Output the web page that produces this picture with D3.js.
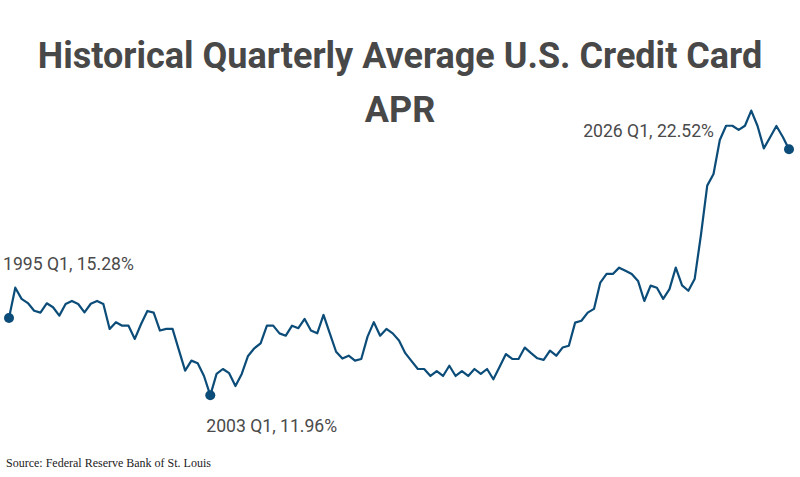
<!DOCTYPE html>
<html>
<head>
<meta charset="utf-8">
<script src="https://cdn.jsdelivr.net/npm/d3@7"></script>
<style>
  html, body { margin: 0; padding: 0; background: #fff; }
  svg { display: block; }
  .title { font-family: Roboto, "Open Sans", sans-serif; font-weight: 700; font-size: 36px; fill: #484848; }
  .note { font-family: Roboto, sans-serif; font-size: 17.6px; fill: #4a4a4a; }
  .source { font-family: "Liberation Serif", "Times New Roman", serif; font-size: 12px; fill: #222; }
</style>
</head>
<body>
<svg id="chart" width="800" height="477"></svg>
<script>
  const START_YEAR = 1995;
  const END_YEAR = 2026;

  // quarterly average APR, %, 1995 Q1 .. 2026 Q1
  const aprValues = [
    15.28, 16.58, 16.10, 15.92, 15.59, 15.51, 15.91, 15.74, 15.38, 15.88,
    16.01, 15.88, 15.52, 15.89, 16.01, 15.88, 14.81, 15.10, 14.95, 14.95,
    14.38, 15.02, 15.58, 15.51, 14.74, 14.81, 14.81, 13.91, 13.02, 13.45,
    13.34, 12.79, 11.96, 12.88, 13.09, 12.91, 12.36, 12.88, 13.65, 13.98,
    14.19, 14.95, 14.95, 14.62, 14.52, 14.95, 14.84, 15.24, 14.74, 14.62,
    15.41, 14.62, 13.83, 13.54, 13.66, 13.45, 13.52, 14.48, 15.10, 14.52,
    14.81, 14.62, 14.31, 13.77, 13.43, 13.09, 13.09, 12.79, 13.00, 12.79,
    13.23, 12.79, 13.00, 12.79, 13.09, 12.88, 13.09, 12.65, 13.19, 13.73,
    13.52, 13.52, 14.01, 13.77, 13.55, 13.48, 13.88, 13.66, 14.01, 14.09,
    15.08, 15.16, 15.51, 15.67, 16.80, 17.17, 17.17, 17.44, 17.31, 17.17,
    16.87, 16.01, 16.67, 16.58, 16.10, 16.52, 17.44, 16.68, 16.45, 16.95,
    18.84, 20.96, 21.46, 22.92, 23.53, 23.53, 23.35, 23.53, 24.18, 23.52,
    22.56, 23.04, 23.52, 23.06, 22.52
  ];

  const quarters = [];
  for (let y = START_YEAR; y <= END_YEAR; y++) {
    for (let q = 1; q <= 4; q++) quarters.push(`${y} Q${q}`);
  }
  quarters.length = aprValues.length;

  const highlights = ['1995 Q1', '2003 Q1', '2026 Q1'];

  const data = aprValues.map((v, i) => ({ q: quarters[i], i, v }));

  const svg = d3.select('#chart');

  const x = d3.scaleLinear().domain([0, aprValues.length - 1]).range([9, 789]);
  const y = d3.scaleLinear().domain([10, 25]).range([441, 91.5]);

  // Title
  svg.append('text').attr('class', 'title')
    .attr('x', 400).attr('y', 68).attr('text-anchor', 'middle')
    .text('Historical Quarterly Average U.S. Credit Card');
  svg.append('text').attr('class', 'title')
    .attr('x', 400).attr('y', 122).attr('text-anchor', 'middle')
    .text('APR');

  const line = d3.line().x(d => x(d.i)).y(d => y(d.v));

  svg.append('path')
    .datum(data)
    .attr('d', line)
    .attr('fill', 'none')
    .attr('stroke', '#0b4c79')
    .attr('stroke-width', 2.2)
    .attr('stroke-linejoin', 'round');

  const hl = data.filter(d => highlights.includes(d.q));

  svg.append('g').selectAll('circle').data(hl).join('circle')
    .attr('cx', d => x(d.i)).attr('cy', d => y(d.v))
    .attr('r', 5).attr('fill', '#0b4c79');

  // label offsets relative to each point
  const labelPos = {
    '1995 Q1': { dx: -6, dy: -48, anchor: 'start' },
    '2003 Q1': { dx: -4, dy: 37, anchor: 'start' },
    '2026 Q1': { dx: -75, dy: -12, anchor: 'end' }
  };

  svg.append('g').selectAll('text').data(hl).join('text')
    .attr('class', 'note')
    .attr('x', d => x(d.i) + labelPos[d.q].dx)
    .attr('y', d => y(d.v) + labelPos[d.q].dy)
    .attr('text-anchor', d => labelPos[d.q].anchor)
    .text(d => `${d.q}, ${d.v.toFixed(2)}%`);

  svg.append('text').attr('class', 'source')
    .attr('x', 6).attr('y', 467)
    .text('Source: Federal Reserve Bank of St. Louis');
</script>
</body>
</html>
